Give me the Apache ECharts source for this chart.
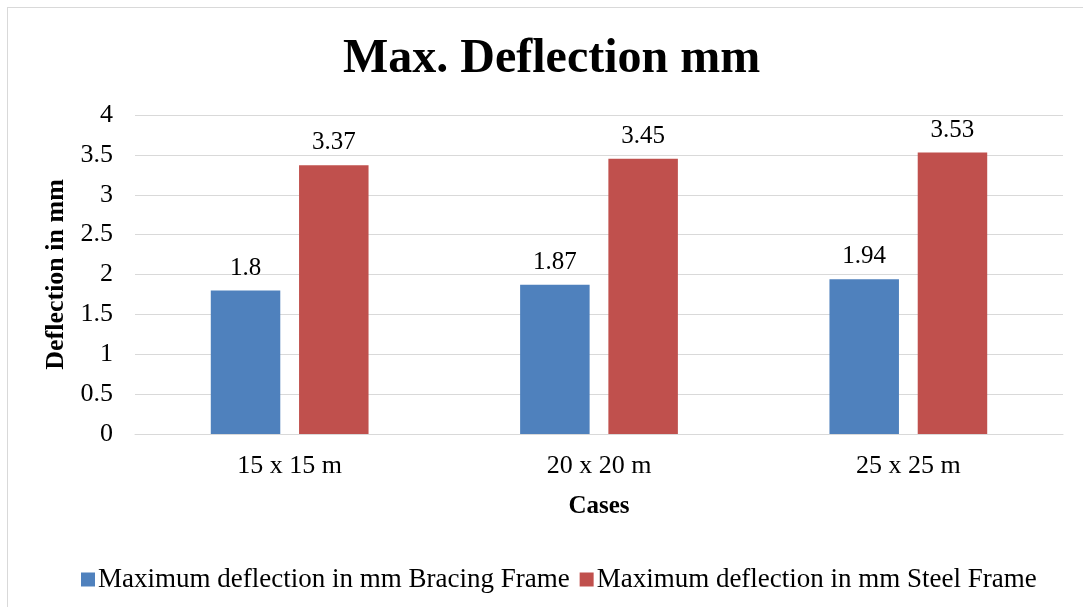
<!DOCTYPE html>
<html>
<head>
<meta charset="utf-8">
<script src="https://cdn.jsdelivr.net/npm/echarts@6/dist/echarts.min.js"></script>
<style>
  html, body { margin: 0; padding: 0; background: #fff; }
  #wrap { position: relative; width: 1083px; height: 607px; overflow: hidden; }
  #frame {
    position: absolute; left: 7px; top: 7px; width: 1200px; height: 700px;
    border-left: 1px solid #d9d9d9; border-top: 1px solid #d9d9d9;
  }
  #chart { position: absolute; left: 0; top: 0; width: 1083px; height: 607px; }
</style>
</head>
<body>
<div id="wrap">
  <div id="frame"></div>
  <div id="chart"></div>
</div>
<script>
// data
const categories = ['15 x 15 m', '20 x 20 m', '25 x 25 m'];
const bracingFrame = [1.8, 1.87, 1.94];
const steelFrame = [3.37, 3.45, 3.53];
const seriesNames = ['Maximum deflection in mm Bracing Frame', 'Maximum deflection in mm Steel Frame'];

const serif = "'Liberation Serif', 'Times New Roman', serif";

const chart = echarts.init(document.getElementById('chart'));

const barLabel = {
  show: true,
  position: 'top',
  distance: 10,
  fontFamily: serif,
  fontSize: 25,
  color: '#000'
};

chart.setOption({
  animation: false,
  color: ['#4F81BD', '#C0504D'],
  title: {
    text: 'Max. Deflection mm',
    left: 338,
    top: 31,
    textStyle: { fontFamily: serif, fontSize: 48, fontWeight: 'bold', color: '#000' }
  },
  legend: {
    data: seriesNames,
    left: 76,
    top: 561,
    icon: 'rect',
    itemWidth: 14,
    itemHeight: 14,
    itemGap: 10,
    textStyle: { fontFamily: serif, fontSize: 27, color: '#000', padding: [0, 0, 0, -2] }
  },
  grid: { left: 135, right: 20, top: 115, bottom: 173 },
  xAxis: {
    type: 'category',
    data: categories,
    name: 'Cases',
    nameLocation: 'middle',
    nameGap: 60,
    nameTextStyle: { fontFamily: serif, fontSize: 25, fontWeight: 'bold', color: '#000' },
    axisLine: { show: true, lineStyle: { color: '#d9d9d9', width: 1 } },
    axisTick: { show: false },
    axisLabel: { fontFamily: serif, fontSize: 26, color: '#000', margin: 19 }
  },
  yAxis: {
    type: 'value',
    min: 0,
    max: 4,
    interval: 0.5,
    name: 'Deflection in mm',
    nameLocation: 'middle',
    nameGap: 65,
    nameTextStyle: { fontFamily: serif, fontSize: 26, fontWeight: 'bold', color: '#000' },
    axisLine: { show: false },
    axisTick: { show: false },
    axisLabel: { fontFamily: serif, fontSize: 26, color: '#000', margin: 22 },
    splitLine: { lineStyle: { color: '#d9d9d9', width: 1 } }
  },
  series: [
    {
      name: seriesNames[0],
      type: 'bar',
      data: bracingFrame,
      barGap: '27%',
      barCategoryGap: '49%',
      label: barLabel
    },
    {
      name: seriesNames[1],
      type: 'bar',
      data: steelFrame,
      label: barLabel
    }
  ]
});
</script>
</body>
</html>
